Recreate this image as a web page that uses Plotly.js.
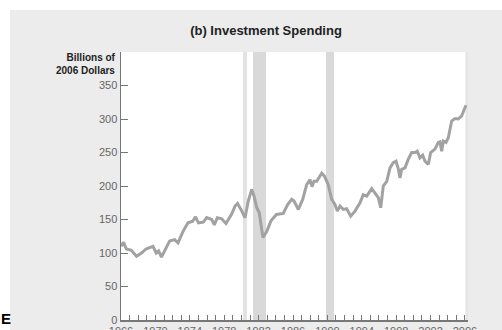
<!DOCTYPE html>
<html>
<head>
<meta charset="utf-8">
<script src="https://cdn.plot.ly/plotly-3.0.1.min.js"></script>
<style>html,body{margin:0;padding:0;background:#fff;}#chart{width:502px;height:330px;}</style>
</head>
<body>
<div id="chart"></div>
<script>
// Investment spending, billions of 2006 dollars
var years = [1966.03,1966.3,1966.62,1967.2,1967.8,1968.38,1968.9,1969.37,1969.72,1970.1,1970.38,1970.71,
  1971.08,1971.66,1972.24,1972.63,1973.2,1973.79,1974.34,1974.66,1975.01,1975.57,1975.97,1976.55,1976.85,
  1977.2,1977.71,1978.21,1978.87,1979.26,1979.55,1979.76,1979.95,1980.42,1980.8,1981.2,1981.47,1981.78,
  1982.08,1982.36,1982.51,1982.94,1983.44,1984.08,1984.87,1985.36,1985.85,1986.12,1986.62,1987.13,1987.59,
  1987.98,1988.21,1988.44,1988.76,1989.34,1989.64,1990.1,1990.5,1990.88,1991.15,1991.47,1991.85,1992.24,
  1992.71,1993.21,1993.79,1994.17,1994.57,1995.15,1995.53,1995.92,1996.2,1996.5,1996.9,1997.28,1997.66,
  1997.98,1998.24,1998.44,1998.64,1999.02,1999.41,1999.8,2000.19,2000.45,2000.77,2001.08,2001.35,2001.73,
  2002.01,2002.51,2002.9,2003.09,2003.29,2003.48,2003.79,2004.06,2004.45,2004.84,2005.22,2005.62,2005.88,2006.12];
var investment = [110,116,106,104,95,100,106,109,110,100,103,94,
  103,118,120,115,132,145,147.5,154,145,146,153,150,142,
  152.6,151,144,158,170,174,168,165,152.6,177.5,195,185,168,
  160,135,123,132,148,157.5,159,172,180,177.5,165,180,202,
  209.5,199,207,207,219,215,202,180,172.5,162.5,170,165,166,
  155,162.5,175,187,185,196,190,182.5,167.5,200,207,227,235,
  237,226,212,225,227,240,250,250,252,242,246,237,232,
  250,255,265,266,252,267,265,272,297,300.6,300,304.5,313.5,320.5];
// Recession shading (start, end)
var recessionStart = [1980.19, 1981.35, 1989.84];
var recessionEnd   = [1980.65, 1982.86, 1990.77];
var recessionColor = ['#e3e3e3', '#d9d9d9', '#d9d9d9'];
var yTicks = [0,50,100,150,200,250,300,350];
var xTicks = [1966,1970,1974,1978,1982,1986,1990,1994,1998,2002,2006];

var W = 502, H = 330, L = 121, R = 34, T = 52, B = 10;
var pw = W - L - R, ph = H - T - B;
function px2paperX(p){ return (p - L) / pw; }
function px2paperY(p){ return (H - B - p) / ph; }

var shapes = [
  {type:'rect', xref:'paper', yref:'paper', layer:'below',
   x0:px2paperX(10), x1:px2paperX(W+2), y0:px2paperY(H+2), y1:px2paperY(10),
   fillcolor:'#ececec', line:{width:0}},
  {type:'rect', xref:'paper', yref:'paper', layer:'below',
   x0:0, x1:1, y0:0, y1:1, fillcolor:'#ffffff', line:{width:0}},
  {type:'rect', xref:'paper', yref:'paper', layer:'below',
   x0:px2paperX(465.5), x1:1, y0:0, y1:1, fillcolor:'#e4e4e4', line:{width:0}}
];
for (var i = 0; i < recessionStart.length; i++) {
  shapes.push({type:'rect', xref:'x', yref:'paper', layer:'below',
    x0:recessionStart[i], x1:recessionEnd[i], y0:0, y1:1,
    fillcolor:recessionColor[i], line:{width:0}});
}

var trace = {
  x: years, y: investment, type:'scatter', mode:'lines',
  line:{color:'#a2a2a2', width:3}, hoverinfo:'skip'
};

var tickFont = {family:'Liberation Sans, Arial, sans-serif', size:11, color:'#666'};

var layout = {
  width: W, height: H,
  margin:{l:L, r:R, t:T, b:B, pad:0},
  paper_bgcolor:'#ffffff', plot_bgcolor:'#ffffff',
  showlegend:false,
  title:{text:'<b>(b) Investment Spending</b>', xref:'container', yref:'container',
    x:266/W, y:1-30/H, xanchor:'center', yanchor:'middle',
    font:{family:'Liberation Sans, Arial, sans-serif', size:13, color:'#222'}},
  xaxis:{range:[1966, 2006.35], tickvals:xTicks, ticktext:xTicks.map(String),
    ticks:'inside', ticklen:5, tickwidth:1, tickcolor:'#777',
    minor:{dtick:1, tick0:1966, ticks:'inside', ticklen:5, tickwidth:1, tickcolor:'#777'},
    showline:true, linecolor:'#777', linewidth:1.5, showgrid:false, zeroline:false,
    tickfont:tickFont, fixedrange:true},
  yaxis:{range:[0, 400], tickvals:yTicks, ticks:'inside', ticklen:7, tickwidth:1, tickcolor:'#777',
    showline:true, linecolor:'#777', linewidth:1.5, showgrid:false, zeroline:false,
    tickfont:tickFont, fixedrange:true},
  shapes: shapes,
  annotations:[
    {xref:'paper', yref:'paper', x:px2paperX(117.5), y:px2paperY(63.5), xanchor:'right', yanchor:'middle',
     align:'right', showarrow:false, text:'<b>Billions of</b><br><b>2006 Dollars</b>',
     font:{family:'Liberation Sans, Arial, sans-serif', size:10, color:'#222'}},
    {xref:'paper', yref:'paper', x:px2paperX(-1), y:px2paperY(318), xanchor:'left', yanchor:'middle',
     showarrow:false, text:'<b>E</b>',
     font:{family:'Liberation Sans, Arial, sans-serif', size:15, color:'#000'}}
  ]
};

Plotly.newPlot('chart', [trace], layout, {staticPlot:true, displayModeBar:false});
</script>
</body>
</html>
